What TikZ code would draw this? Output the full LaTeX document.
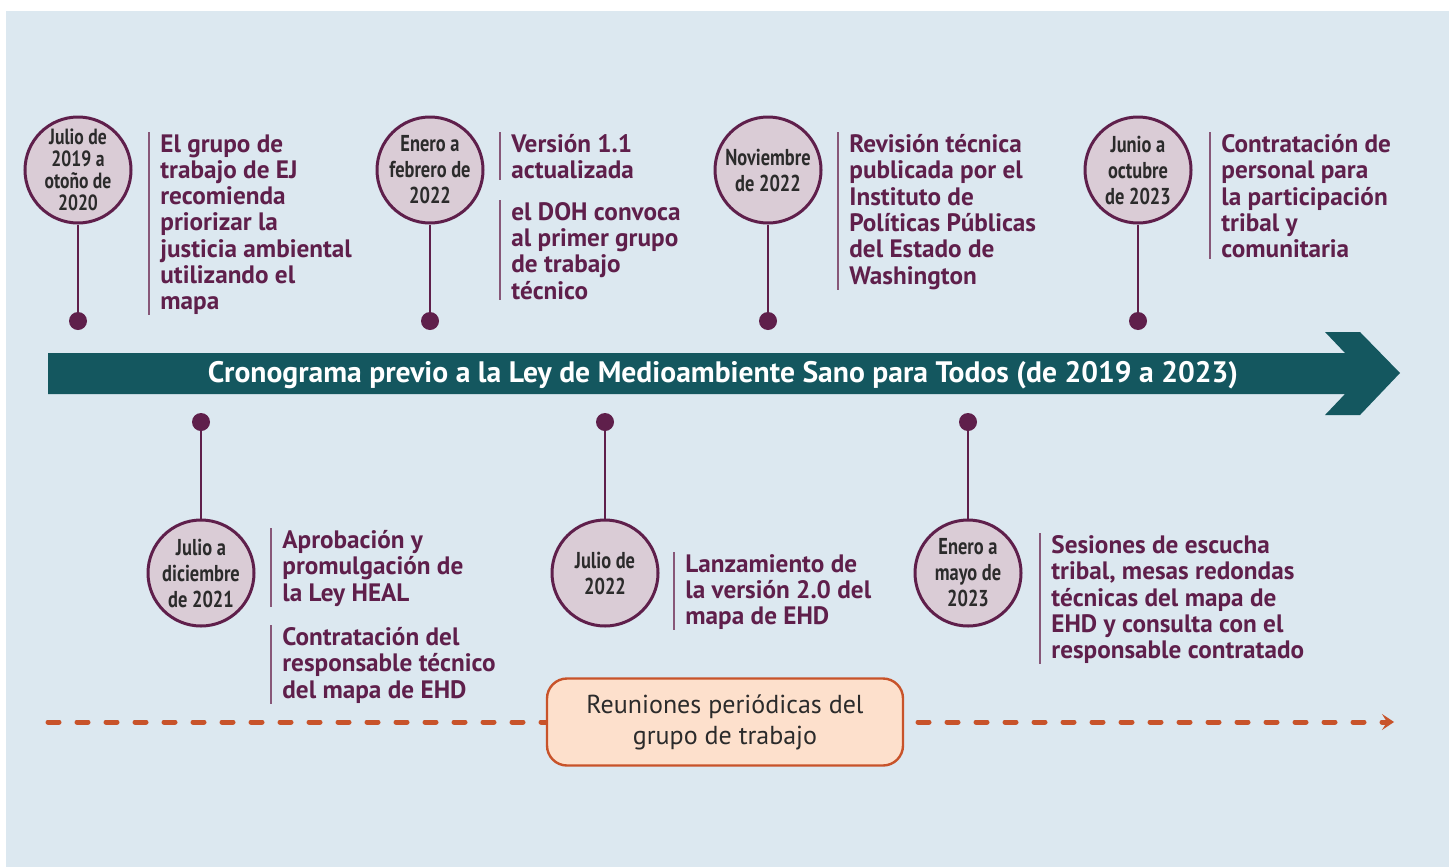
\documentclass[tikz,border=0pt]{standalone}
\usepackage{fontspec}
\setmainfont{PT Sans}
\newfontfamily\datefont[FakeStretch=0.8]{PT Sans}
\usetikzlibrary{arrows.meta,positioning}

\definecolor{fondo}{HTML}{DCE8F0}
\definecolor{petroleo}{HTML}{14575F}
\definecolor{ciruela}{HTML}{5F1F4B}
\definecolor{malva}{HTML}{DACCD6}
\definecolor{naranja}{HTML}{C8532A}
\definecolor{melocoton}{HTML}{FDE0CC}
\definecolor{oscuro}{HTML}{2B2B2B}

\tikzset{
	hito/.style={circle, draw=ciruela, line width=1.5pt, fill=malva, minimum size=53pt,
		inner sep=0pt, align=center, text=oscuro,
		font=\datefont\bfseries\fontsize{11.5}{13}\selectfont},
	hitoapretado/.style={hito, font=\datefont\bfseries\fontsize{11}{11}\selectfont},
	punto/.style={circle, fill=ciruela, minimum size=9pt, inner sep=0pt},
	tallo/.style={draw=ciruela, line width=1.2pt},
	texto/.style={anchor=north west, inner sep=0pt, align=left, text=ciruela,
		font=\bfseries\fontsize{12.6}{13.15}\selectfont},
	raya/.style={draw=ciruela!75, line width=0.9pt},
}

\begin{document}
\begin{tikzpicture}[x=0.5pt, y=-0.5pt]
	\useasboundingbox (0,0) rectangle (1449,867);
	\fill[fondo] (6,11) rectangle (1449,867);

	% flecha del cronograma
	\fill[petroleo] (48,353) -- (1345,353) -- (1325,332) -- (1360,332) -- (1400,373)
		-- (1360,415) -- (1325,415) -- (1345,394) -- (48,394) -- cycle;
	\node[text=white, font=\bfseries\fontsize{14.8}{16}\selectfont] (titulo) at (723,375)
		{Cronograma previo a la Ley de Medioambiente Sano para Todos (de 2019 a 2023)};

	% hitos de arriba
	\node[hitoapretado] (c1) at (78,170) {Julio de\\2019 a\\otoño de\\2020};
	\foreach \n/\x/\fecha in {2/430/{Enero a\\febrero de\\2022},
			3/768/{Noviembre\\de 2022},
			4/1138/{Junio a\\octubre\\de 2023}}{
		\node[hito] (c\n) at (\x,170) {\fecha};
	}
	\foreach \n/\x in {1/78, 2/430, 3/768, 4/1138}{
		\node[punto] (d\n) at (\x,321) {};
		\draw[tallo] (d\n) -- (c\n);
	}

	% hitos de abajo
	\foreach \n/\x/\fecha in {5/201/{Julio a\\diciembre\\de 2021},
			6/605/{Julio de\\2022},
			7/968/{Enero a\\mayo de\\2023}}{
		\node[hito] (c\n) at (\x,573) {\fecha};
		\node[punto] (d\n) at (\x,422) {};
		\draw[tallo] (d\n) -- (c\n);
	}

	% textos
	\node[texto] (t1) at (160,134) {El grupo de\\trabajo de EJ\\recomienda\\priorizar la\\justicia ambiental\\utilizando el\\mapa};
	\node[texto] (t2) at (511,134) {Versión 1.1\\actualizada};
	\node[texto] (t2b) at (511,202) {el DOH convoca\\al primer grupo\\de trabajo\\técnico};
	\node[texto] (t3) at (849,134) {Revisión técnica\\publicada por el\\Instituto de\\Políticas Públicas\\del Estado de\\Washington};
	\node[texto] (t4) at (1221,134) {Contratación de\\personal para\\la participación\\tribal y\\comunitaria};
	\node[texto] (t5) at (282,530) {Aprobación y\\promulgación de\\la Ley HEAL};
	\node[texto] (t5b) at (282,627) {Contratación del\\responsable técnico\\del mapa de EHD};
	\node[texto] (t6) at (685,554) {Lanzamiento de\\la versión 2.0 del\\mapa de EHD};
	\node[texto] (t7) at (1051,535) {Sesiones de escucha\\tribal, mesas redondas\\técnicas del mapa de\\EHD y consulta con el\\responsable contratado};

	\foreach \t in {t1,t2,t2b,t3,t4,t5,t5b,t6,t7}
		\draw[raya] ([xshift=-5.5pt,yshift=1pt]\t.north west) -- ([xshift=-5.5pt]\t.south west);

	% reuniones
	\coordinate (ini) at (48,722);
	\coordinate (fin) at (1394,722);
	\draw[naranja, line width=2.5pt, line cap=round, dash pattern=on 5.5pt off 9pt,
		-{Stealth[length=6pt, width=8pt, inset=2.5pt]}] (ini) -- (fin);
	\node[draw=naranja, line width=1.2pt, fill=melocoton, rounded corners=10pt,
		minimum width=178pt, minimum height=43.5pt, align=center, text=oscuro,
		font=\fontsize{13}{15.5}\selectfont] (reun) at (725,722)
		{Reuniones periódicas del\\grupo de trabajo};
\end{tikzpicture}
\end{document}
